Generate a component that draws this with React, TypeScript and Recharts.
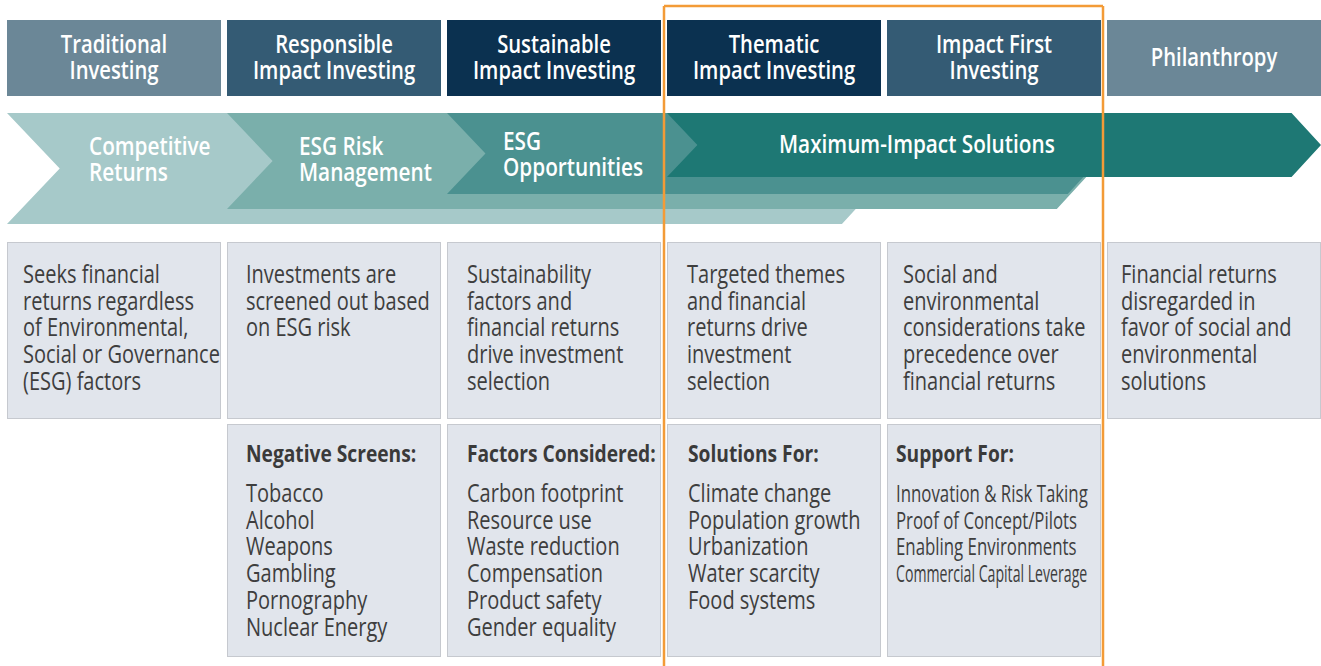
import React from 'react';
import { BarChart, Bar, XAxis, YAxis } from 'recharts';

// --- chart content ---
const investingStyles = [
  "Traditional\nInvesting",
  "Responsible\nImpact Investing",
  "Sustainable\nImpact Investing",
  "Thematic\nImpact Investing",
  "Impact First\nInvesting",
  "Philanthropy",
];
const styleDescriptions = [
  "Seeks financial\nreturns regardless\nof Environmental,\nSocial or Governance\n(ESG) factors",
  "Investments are\nscreened out based\non ESG risk",
  "Sustainability\nfactors and\nfinancial returns\ndrive investment\nselection",
  "Targeted themes\nand financial\nreturns drive\ninvestment\nselection",
  "Social and\nenvironmental\nconsiderations take\nprecedence over\nfinancial returns",
  "Financial returns\ndisregarded in\nfavor of social and\nenvironmental\nsolutions",
];
const listHeadings = ["", "Negative Screens:", "Factors Considered:", "Solutions For:", "Support For:", ""];
const listEntries = [
  [],
  ["Tobacco", "Alcohol", "Weapons", "Gambling", "Pornography", "Nuclear Energy"],
  ["Carbon footprint", "Resource use", "Waste reduction", "Compensation", "Product safety", "Gender equality"],
  ["Climate change", "Population growth", "Urbanization", "Water scarcity", "Food systems"],
  ["Innovation & Risk Taking", "Proof of Concept/Pilots", "Enabling Environments", "Commercial Capital Leverage"],
  [],
];
// arrow band that starts at each column, and the column boundary it reaches
const focusLabels = ["Competitive\nReturns", "ESG Risk\nManagement", "ESG\nOpportunities", "Maximum-Impact Solutions", "", ""];
const focusReach = [4, 5, 5, 6, 0, 0];
const highlighted = [false, false, false, true, true, false];

// --- styles / layout ---
const FONT = "'Open Sans', 'Noto Sans', sans-serif";
const SQUEEZE = 0.77;
const TEXT = '#3e3e3e';
const headerFills = ['#6b8797', '#345b74', '#0b3150', '#0b3150', '#345b74', '#6b8797'];
const bandFills = ['#a6c9c9', '#7aafab', '#4b9190', '#1e7874'];
const bandBottoms = [224, 209, 194, 177];
const tipAdjust = [9, -3, 1, -3];
const labelDx = [82, 72, 56, 112];
const labelBase = [155, 155, 150, 153];
const descDx = [16, 19, 20, 20, 16, 14];
const listDx = [18, 19, 20, 21, 9, 18];
const listSize = [26, 26, 26, 26, 23, 26];
const listSqueeze = [1, 1, 1, 1, 0.95, 1];
const compactItems: Record<string, number> = { "Commercial Capital Leverage": 0.84 };

const INSET = 3;
const BAND_TOP = 113;
const LINE = 26.7;

const rows = investingStyles.map((name, i) => ({
  name,
  span: 1,
  desc: styleDescriptions[i],
  heading: listHeadings[i],
  items: listEntries[i],
  label: focusLabels[i],
  reach: focusReach[i],
  focus: highlighted[i],
}));

function Txt({ x, y, size, weight = 400, fill = TEXT, anchor = 'start', squeeze = SQUEEZE, children }: any) {
  return (
    <text
      transform={`translate(${x} ${y}) scale(${squeeze} 1)`}
      fontSize={size}
      fontWeight={weight}
      fill={fill}
      textAnchor={anchor}
      fontFamily={FONT}
    >
      {children}
    </text>
  );
}

function ColumnShape(props: any) {
  const { x, width, index, payload } = props;
  const bx = x + INSET;
  const bw = width - 2 * INSET;
  const headLines = payload.name.split('\n');
  const descLines = payload.desc.split('\n');

  // arrow band starting in this column
  let band = null;
  if (payload.label) {
    const top = BAND_TOP;
    const bottom = bandBottoms[index];
    const half = (bottom - top) / 2;
    const mid = top + half;
    const tip = x + (payload.reach - index) * width + tipAdjust[index];
    const head = half * 0.92;
    const notch = half * 0.95;
    const pts = [
      [bx, top], [tip - head, top], [tip, mid], [tip - head, bottom], [bx, bottom], [bx + notch, mid],
    ].map(p => p.join(',')).join(' ');
    const lbl = payload.label.split('\n');
    band = (
      <g>
        <polygon points={pts} fill={bandFills[index]} />
        {lbl.map((t: string, k: number) => (
          <Txt key={k} x={bx + labelDx[index]} y={labelBase[index] + k * 26} size={25} weight={600} fill="#ffffff" squeeze={0.83}>{t}</Txt>
        ))}
      </g>
    );
  }

  // orange frame around the highlighted columns
  let frame = null;
  if (payload.focus) {
    const first = !highlighted[index - 1];
    const last = !highlighted[index + 1];
    const r = last ? x + width - 1 : x + width;
    frame = (
      <g stroke="#f39b37" strokeWidth={2.5} fill="none">
        <line x1={x} y1={6} x2={r} y2={6} />
        {first && <line x1={x} y1={6} x2={x} y2={666} />}
        {last && <line x1={r} y1={6} x2={r} y2={666} />}
      </g>
    );
  }

  const headBase = 66 - (headLines.length - 1) * 13;

  return (
    <g>
      <rect x={bx} y={20} width={bw} height={76} fill={headerFills[index]} />
      {headLines.map((t: string, k: number) => (
        <Txt key={k} x={bx + bw / 2} y={headBase + k * 26} size={25} weight={600} fill="#ffffff" anchor="middle" squeeze={0.81}>{t}</Txt>
      ))}
      {band}
      <rect x={bx + 0.5} y={242.5} width={bw - 1} height={176} fill="#e1e5ec" stroke="#c6c9cf" />
      {descLines.map((t: string, k: number) => (
        <Txt key={k} x={bx + descDx[index]} y={283 + k * LINE} size={26}>{t}</Txt>
      ))}
      {payload.heading && (
        <g>
          <rect x={bx + 0.5} y={424.5} width={bw - 1} height={232} fill="#e1e5ec" stroke="#c6c9cf" />
          <Txt x={bx + listDx[index]} y={462} size={24} weight={700} fill="#3a3a3a" squeeze={0.8}>{payload.heading}</Txt>
          {payload.items.map((t: string, k: number) => (
            <Txt
              key={k}
              x={bx + listDx[index]}
              y={502 + k * LINE}
              size={listSize[index]}
              squeeze={SQUEEZE * listSqueeze[index] * (compactItems[t] || 1)}
            >
              {t}
            </Txt>
          ))}
        </g>
      )}
      {frame}
    </g>
  );
}

export default function App() {
  return (
    <div style={{ position: 'absolute', left: 0, top: 0, width: 1321, height: 666, overflow: 'hidden', background: '#ffffff' }}>
      <BarChart width={1324} height={666} data={rows} margin={{ top: 0, right: 0, left: 4, bottom: 0 }} barCategoryGap={0}>
        <XAxis dataKey="name" hide />
        <YAxis hide domain={[0, 1]} />
        <Bar dataKey="span" shape={ColumnShape} isAnimationActive={false} />
      </BarChart>
    </div>
  );
}
